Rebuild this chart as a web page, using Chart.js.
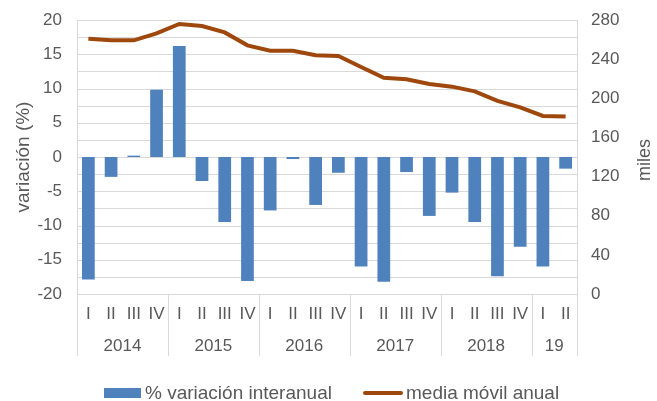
<!DOCTYPE html>
<html lang="es">
<head>
<meta charset="utf-8">
<script src="https://cdn.jsdelivr.net/npm/chart.js@4"></script>
<style>
  html, body { margin: 0; padding: 0; background: #fff; }
  #wrap { position: relative; width: 657px; height: 401px; font-family: "Liberation Sans", Arial, sans-serif; color: #595959; }
  #legend { position: absolute; left: 0; top: 381px; width: 657px; height: 24px; font-size: 19px; }
  .item { position: absolute; top: 0; line-height: 24px; white-space: nowrap; }
  .swatch { position: absolute; }
</style>
</head>
<body>
<div id="wrap">
  <canvas id="chart" width="657" height="401"></canvas>
  <div id="legend">
    <div class="item" style="left:104px;"><span class="swatch" style="left:0;top:7px;width:37px;height:10px;background:#4F81BD;"></span><span style="margin-left:41px;">% variación interanual</span></div>
    <div class="item" style="left:363px;"><span class="swatch" style="left:0;top:10px;width:40px;height:4px;background:#9E480E;border-radius:2px;"></span><span style="margin-left:43px;">media móvil anual</span></div>
  </div>
</div>
<script>
// quarters shown on the first axis line, years grouped below them
const quarterLabels = ['I', 'II', 'III', 'IV', 'I', 'II', 'III', 'IV', 'I', 'II', 'III', 'IV',
    'I', 'II', 'III', 'IV', 'I', 'II', 'III', 'IV', 'I', 'II'];
const yearLabels = ['2014', '2015', '2016', '2017', '2018', '19'];
const yearQuarterCounts = [4, 4, 4, 4, 4, 2];

// left axis: gridlines every 2.5, labels only on multiples of 5
const leftGridValues = [-20, -17.5, -15, -12.5, -10, -7.5, -5, -2.5, 0, 2.5, 5, 7.5, 10, 12.5, 15, 17.5, 20];

// % variación interanual (left axis)
const variacion = [-17.9, -2.9, 0.2, 9.8, 16.2, -3.5, -9.5, -18.1, -7.8, -0.3, -7.0, -2.3,
    -16.0, -18.2, -2.2, -8.6, -5.2, -9.5, -17.4, -13.1, -16.0, -1.7];
// media móvil anual, miles (right axis)
const mediaMovil = [260.9, 259.2, 259.2, 266.3, 275.9, 273.8, 267.3, 254.1, 248.6, 248.6, 243.9, 243.2,
    232.0, 221.0, 219.4, 214.6, 211.9, 207.1, 197.3, 190.8, 182.0, 181.3];

const textColor = '#595959';
const gridColor = '#D9D9D9';
const fontFamily = '"Liberation Sans", Arial, sans-serif';

// horizontal gridlines, minor ones included
const gridPlugin = {
    id: 'halfGrid',
    beforeDatasetsDraw(chart) {
        const { ctx, chartArea, scales } = chart;
        ctx.save();
        ctx.strokeStyle = gridColor;
        ctx.lineWidth = 1;
        leftGridValues.forEach(v => {
            const y = Math.round(scales.y.getPixelForValue(v)) + 0.5;
            ctx.beginPath();
            ctx.moveTo(chartArea.left, y);
            ctx.lineTo(chartArea.right, y);
            ctx.stroke();
        });
        ctx.restore();
    }
};

// draws the year row, its separators and the right axis title
const yearAxisPlugin = {
    id: 'yearAxis',
    afterDraw(chart) {
        const { ctx, chartArea, scales } = chart;
        const x = scales.x;
        const half = (x.getPixelForValue(1) - x.getPixelForValue(0)) / 2;
        const top = chartArea.bottom;
        const bottom = chartArea.bottom + 62;

        ctx.save();
        ctx.strokeStyle = gridColor;
        ctx.lineWidth = 1;
        ctx.fillStyle = textColor;
        ctx.font = '17px ' + fontFamily;
        ctx.textAlign = 'center';
        ctx.textBaseline = 'middle';

        let start = 0;
        yearLabels.forEach((year, i) => {
            const end = start + yearQuarterCounts[i] - 1;
            const left = x.getPixelForValue(start) - half;
            const right = x.getPixelForValue(end) + half;
            [left, right].forEach(px => {
                const lx = Math.round(px) + 0.5;
                ctx.beginPath();
                ctx.moveTo(lx, top);
                ctx.lineTo(lx, bottom);
                ctx.stroke();
            });
            ctx.fillText(year, (left + right) / 2, chartArea.bottom + 52);
            start = end + 1;
        });

        // "miles" reads bottom to top, like the left title
        ctx.font = '18px ' + fontFamily;
        ctx.translate(645, (chartArea.top + chartArea.bottom) / 2 + 3);
        ctx.rotate(-Math.PI / 2);
        ctx.fillText('miles', 0, 0);
        ctx.restore();
    }
};

const ctx = document.getElementById('chart').getContext('2d');
new Chart(ctx, {
    type: 'bar',
    data: {
        labels: quarterLabels,
        datasets: [{
            type: 'line',
            label: 'media móvil anual',
            data: mediaMovil,
            yAxisID: 'y1',
            borderColor: '#9E480E',
            backgroundColor: '#9E480E',
            borderWidth: 4,
            pointRadius: 0,
            tension: 0,
            order: 0
        }, {
            type: 'bar',
            label: '% variación interanual',
            data: variacion,
            yAxisID: 'y',
            backgroundColor: '#4F81BD',
            borderWidth: 0,
            barPercentage: 0.56,
            categoryPercentage: 1,
            order: 1
        }]
    },
    options: {
        responsive: false,
        animation: false,
        layout: { padding: { top: 20, bottom: 45, left: 0, right: 0 } },
        plugins: {
            legend: { display: false },
            tooltip: { enabled: false }
        },
        scales: {
            x: {
                grid: { display: false, drawTicks: false },
                border: { display: false },
                ticks: {
                    color: textColor,
                    font: { family: fontFamily, size: 17 },
                    padding: 10,
                    maxRotation: 0,
                    autoSkip: false
                },
                afterFit: scale => { scale.height = 62; }
            },
            y: {
                position: 'left',
                min: -20,
                max: 20,
                grid: { display: false, drawTicks: false },
                border: { display: true, color: gridColor },
                ticks: {
                    autoSkip: false,
                    color: textColor,
                    font: { family: fontFamily, size: 17 },
                    padding: 15,
                    callback: v => (v % 5 === 0 ? v : '')
                },
                afterBuildTicks: scale => {
                    scale.ticks = leftGridValues.map(v => ({ value: v }));
                },
                title: {
                    display: true,
                    text: 'variación (%)',
                    color: textColor,
                    font: { family: fontFamily, size: 19 },
                    padding: { top: 12, bottom: 0 }
                },
                afterFit: scale => {
                    scale.width = 77;
                    scale.paddingTop = 0;
                }
            },
            y1: {
                position: 'right',
                min: 0,
                max: 280,
                grid: { display: false, drawTicks: false },
                border: { display: true, color: gridColor },
                ticks: {
                    stepSize: 40,
                    color: textColor,
                    font: { family: fontFamily, size: 17 },
                    padding: 14
                },
                afterFit: scale => {
                    scale.width = 80;
                    scale.paddingTop = 0;
                }
            }
        }
    },
    plugins: [gridPlugin, yearAxisPlugin]
});
</script>
</body>
</html>
